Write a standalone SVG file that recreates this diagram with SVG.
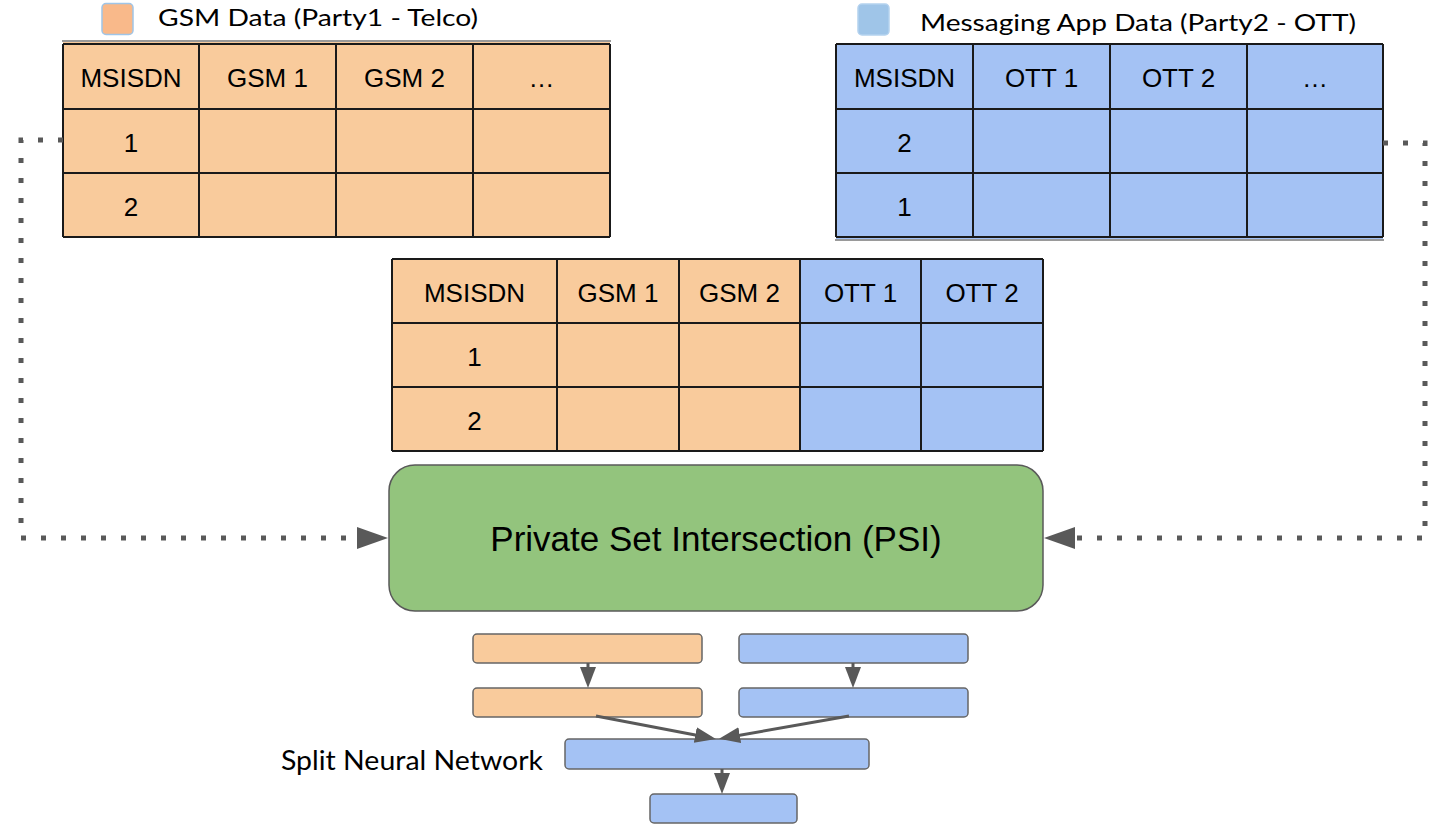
<svg xmlns="http://www.w3.org/2000/svg" width="1443" height="831" viewBox="0 0 1443 831">
<defs>
<style>
.org{fill:#f9cb9c}
.blu{fill:#a4c2f4}
.grid{stroke:#1a1a1a;stroke-width:2;fill:none}
.shade{stroke:#9a9a9a;stroke-width:2}
.cell{font-family:"Liberation Sans",Arial,sans-serif;font-size:26px;fill:#000;text-anchor:middle}
.cal{font-family:Lato,"Open Sans",sans-serif;fill:#000}
.layer{stroke:#666;stroke-width:1.5}
.dots{fill:none;stroke:#595959;stroke-width:5;stroke-dasharray:5 15}
.arr{fill:none;stroke:#595959;stroke-width:3}
</style>
<marker id="big" markerUnits="userSpaceOnUse" markerWidth="32" markerHeight="24" refX="0" refY="11" orient="auto">
<path d="M0,0 L31,11 L0,22 z" fill="#595959"/>
</marker>
<marker id="small" markerUnits="userSpaceOnUse" markerWidth="22" markerHeight="18" refX="16" refY="8" orient="auto">
<path d="M0,0 L21,8 L0,16 z" fill="#595959"/>
</marker>
</defs>

<g id="legend-gsm">
<rect x="102" y="3.5" width="31" height="31" rx="4" fill="#f9b98a" stroke="#9fc5e8" stroke-width="1.5"/>
<text class="cal" x="158" y="26" font-size="24" textLength="320" lengthAdjust="spacingAndGlyphs">GSM Data (Party1 - Telco)</text>
</g>

<g id="legend-ott">
<rect x="858" y="4" width="31" height="31" rx="4" fill="#9fc5e8" stroke="#b4d2ee" stroke-width="1.5"/>
<text class="cal" x="920" y="31" font-size="24" textLength="436" lengthAdjust="spacingAndGlyphs">Messaging App Data (Party2 - OTT)</text>
</g>

<g id="gsm-table">
<rect class="org" x="63" y="40" width="547" height="197"/>
<line class="shade" x1="62" y1="41" x2="611" y2="41"/>
<path class="grid" d="M63,44 H610 M63,109 H610 M63,173 H610 M63,237 H610 M63,44 V237 M199,44 V237 M336,44 V237 M473,44 V237 M610,44 V237"/>
<text class="cell" x="131" y="87">MSISDN</text>
<text class="cell" x="267.5" y="87">GSM 1</text>
<text class="cell" x="404.5" y="87">GSM 2</text>
<text class="cell" x="541.5" y="87">…</text>
<text class="cell" x="131" y="152">1</text>
<text class="cell" x="131" y="216">2</text>
</g>

<g id="ott-table">
<rect class="blu" x="836" y="44" width="547" height="196"/>
<line class="shade" x1="835" y1="240" x2="1384" y2="240"/>
<path class="grid" d="M836,44 H1383 M836,109 H1383 M836,173 H1383 M836,237 H1383 M836,44 V237 M973,44 V237 M1110,44 V237 M1247,44 V237 M1383,44 V237"/>
<text class="cell" x="904.5" y="87">MSISDN</text>
<text class="cell" x="1041.5" y="87">OTT 1</text>
<text class="cell" x="1178.5" y="87">OTT 2</text>
<text class="cell" x="1315" y="87">…</text>
<text class="cell" x="904.5" y="152">2</text>
<text class="cell" x="904.5" y="216">1</text>
</g>

<g id="joined-table">
<rect class="org" x="392" y="259" width="408" height="192"/>
<rect class="blu" x="800" y="259" width="243" height="192"/>
<path class="grid" d="M392,259 H1043 M392,323 H1043 M392,387 H1043 M392,451 H1043 M392,259 V451 M557,259 V451 M679,259 V451 M800,259 V451 M921,259 V451 M1043,259 V451"/>
<text class="cell" x="474.5" y="302">MSISDN</text>
<text class="cell" x="618" y="302">GSM 1</text>
<text class="cell" x="739.5" y="302">GSM 2</text>
<text class="cell" x="860.5" y="302">OTT 1</text>
<text class="cell" x="982" y="302">OTT 2</text>
<text class="cell" x="474.5" y="366">1</text>
<text class="cell" x="474.5" y="430">2</text>
</g>

<g id="psi">
<rect x="389" y="465" width="654" height="146" rx="26" fill="#93c47d" stroke="#595959" stroke-width="1.5"/>
<text x="716" y="551" font-family="'Liberation Sans',Arial,sans-serif" font-size="35" text-anchor="middle" fill="#000">Private Set Intersection (PSI)</text>
</g>

<g id="snn-gsm-1"><rect class="org layer" x="473" y="634" width="229" height="29" rx="4"/></g>
<g id="snn-gsm-2"><rect class="org layer" x="473" y="688" width="229" height="29" rx="4"/></g>
<g id="snn-ott-1"><rect class="blu layer" x="739" y="634" width="229" height="29" rx="4"/></g>
<g id="snn-ott-2"><rect class="blu layer" x="739" y="688" width="229" height="29" rx="4"/></g>
<g id="snn-merge"><rect class="blu layer" x="565" y="739" width="304" height="30" rx="4"/></g>
<g id="snn-out"><rect class="blu layer" x="650" y="794" width="147" height="29" rx="4"/></g>

<g id="snn-label">
<text class="cal" x="281" y="770" font-size="26" textLength="262" lengthAdjust="spacingAndGlyphs">Split Neural Network</text>
</g>

<g id="connectors">
<path class="dots" d="M63,140 H21 V538 H357" marker-end="url(#big)"/>
<path class="dots" d="M1383,143 H1425 V538 H1075" marker-end="url(#big)"/>
<line class="arr" x1="588" y1="663" x2="588" y2="683" marker-end="url(#small)"/>
<line class="arr" x1="853" y1="663" x2="853" y2="683" marker-end="url(#small)"/>
<line class="arr" x1="596" y1="716" x2="711" y2="738" marker-end="url(#small)"/>
<line class="arr" x1="849" y1="716" x2="724" y2="738" marker-end="url(#small)"/>
<line class="arr" x1="722" y1="769" x2="722" y2="789" marker-end="url(#small)"/>
</g>
</svg>
